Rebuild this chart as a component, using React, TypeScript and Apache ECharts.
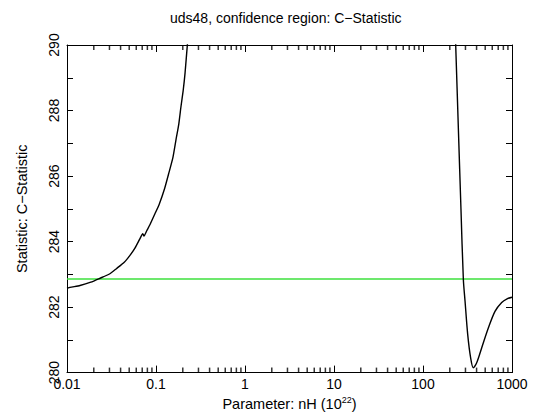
import React, { useEffect, useRef } from "react";
import * as echarts from "echarts";

const titleText = "uds48, confidence region: C\u2212Statistic";
const yName = "Statistic: C\u2212Statistic";

const leftX = [0.01, 0.0108, 0.014, 0.0185, 0.0235, 0.03, 0.0361, 0.044, 0.051, 0.058, 0.0661, 0.071, 0.0733, 0.0787, 0.0857, 0.097, 0.109, 0.125, 0.14, 0.155, 0.168, 0.18, 0.191, 0.202, 0.212, 0.225, 0.24];
const leftY = [282.57, 282.6, 282.66, 282.76, 282.88, 283.01, 283.18, 283.37, 283.58, 283.8, 284.09, 284.24, 284.17, 284.33, 284.52, 284.84, 285.15, 285.62, 286.11, 286.57, 287.12, 287.57, 288.13, 288.61, 289.14, 290.0, 290.8];

const rightX = [220, 233, 250, 267, 284, 297, 318, 343, 367, 401, 457, 542, 644, 766, 880, 1000];
const rightY = [292.1, 290.0, 287.4, 285.0, 282.85, 282.17, 281.16, 280.45, 280.15, 280.3, 280.76, 281.36, 281.87, 282.14, 282.25, 282.3];

const thresholdX = [0.01, 1000];
const thresholdY = [282.86, 282.86];

const yMin = 280;
const yMax = 290;

const minorTicks: number[] = [];
[0.01, 0.1, 1, 10, 100].forEach((d) => {
  for (let k = 2; k <= 9; k++) minorTicks.push(Number((d * k).toPrecision(6)));
});

const FONT = "Liberation Sans, Arial, Helvetica, sans-serif";

export default function App() {
  const ref = useRef<HTMLDivElement>(null);
  useEffect(() => {
    if (!ref.current) return;
    const chart = echarts.init(ref.current, undefined, { renderer: "svg" });
    const axisBase = {
      type: "log" as const,
      logBase: 10,
      min: 0.01,
      max: 1000,
      splitLine: { show: false },
    };
    const zip = (xs: number[], ys: number[]) => xs.map((x, i) => [x, ys[i]]);
    const minorSeries = (yv: number, off: number) => ({
      type: "scatter",
      xAxisIndex: 0,
      yAxisIndex: 0,
      silent: true,
      clip: false,
      symbol: "rect",
      symbolSize: [1.5, 5],
      symbolOffset: [0, off],
      itemStyle: { color: "#000" },
      data: minorTicks.map((v) => [v, yv]),
      z: 5,
    });
    chart.setOption({
      animation: false,
      backgroundColor: "#fff",
      textStyle: { fontFamily: FONT },
      title: {
        text: titleText,
        left: 165,
        top: 6,
        textStyle: { fontFamily: FONT, fontSize: 14, fontWeight: "normal", color: "#000" },
      },
      grid: { left: 67, right: 29, top: 45, bottom: 41 },
      xAxis: [
        {
          ...axisBase,
          position: "bottom",
          name: "Parameter: nH (10{sup|22})",
          nameLocation: "middle",
          nameGap: 22,
          nameTextStyle: {
            fontFamily: FONT,
            fontSize: 14.5,
            color: "#000",
            rich: { sup: { fontSize: 9, padding: [0, 0, 7, 0], fontFamily: FONT, color: "#000" } },
          },
          axisLine: { show: true, lineStyle: { color: "#000", width: 1 } },
          axisTick: { show: true, inside: true, length: 7, lineStyle: { color: "#000" } },
          axisLabel: {
            show: true,
            margin: 4,
            fontFamily: FONT,
            fontSize: 14,
            color: "#000",
            formatter: (v: number) => String(Number(v.toPrecision(6))),
          },
        },
        {
          ...axisBase,
          position: "top",
          axisLine: { show: true, lineStyle: { color: "#000", width: 1 } },
          axisTick: { show: true, inside: true, length: 7, lineStyle: { color: "#000" } },
          axisLabel: { show: false },
        },
      ],
      yAxis: [
        {
          type: "value",
          min: yMin,
          max: yMax,
          interval: 1,
          position: "left",
          name: yName,
          nameLocation: "middle",
          nameGap: 38,
          nameRotate: 90,
          nameTextStyle: { fontFamily: FONT, fontSize: 14.5, color: "#000" },
          splitLine: { show: false },
          axisLine: { show: true, lineStyle: { color: "#000", width: 1 } },
          axisTick: { show: true, inside: true, length: 6, lineStyle: { color: "#000" } },
          axisLabel: {
            show: true,
            rotate: 90,
            margin: 6,
            fontFamily: FONT,
            fontSize: 14,
            color: "#000",
            formatter: (v: number) => (Math.round(v) % 2 === 0 ? String(Math.round(v)) : ""),
          },
        },
        {
          type: "value",
          min: yMin,
          max: yMax,
          interval: 1,
          position: "right",
          splitLine: { show: false },
          axisLine: { show: true, lineStyle: { color: "#000", width: 1 } },
          axisTick: { show: true, inside: true, length: 6, lineStyle: { color: "#000" } },
          axisLabel: { show: false },
        },
      ],
      series: [
        minorSeries(yMin, -2.5),
        minorSeries(yMax, 2.5),
        {
          type: "line",
          xAxisIndex: 0,
          yAxisIndex: 0,
          data: zip(thresholdX, thresholdY),
          showSymbol: false,
          lineStyle: { color: "#3ce03c", width: 1.5 },
          silent: true,
        },
        {
          type: "line",
          xAxisIndex: 0,
          yAxisIndex: 0,
          data: zip(leftX, leftY),
          showSymbol: false,
          smooth: 0.2,
          clip: true,
          lineStyle: { color: "#000", width: 1.4 },
          silent: true,
        },
        {
          type: "line",
          xAxisIndex: 0,
          yAxisIndex: 0,
          data: zip(rightX, rightY),
          showSymbol: false,
          smooth: 0.3,
          clip: true,
          lineStyle: { color: "#000", width: 1.4 },
          silent: true,
        },
      ],
    });
    return () => chart.dispose();
  }, []);
  return <div ref={ref} style={{ width: 541, height: 416, position: "absolute", left: 0, top: 0 }} />;
}
